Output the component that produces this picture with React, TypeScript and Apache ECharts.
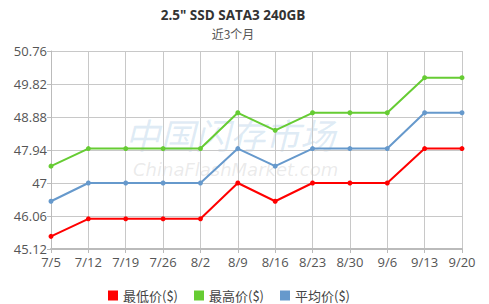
import React, { useEffect, useRef } from "react";
import * as echarts from "echarts";

const categories = ["7/5", "7/12", "7/19", "7/26", "8/2", "8/9", "8/16", "8/23", "8/30", "9/6", "9/13", "9/20"];
const lowPrices = [45.48, 45.98, 45.98, 45.98, 45.98, 47, 46.48, 47, 47, 47, 47.98, 47.98];
const highPrices = [47.48, 47.98, 47.98, 47.98, 47.98, 49, 48.5, 49, 49, 49, 50, 50];
const avgPrices = [46.48, 47, 47, 47, 47, 47.98, 47.48, 47.98, 47.98, 47.98, 49, 49];
const seriesNames = ["最低价($)", "最高价($)", "平均价($)"];
const seriesColors = ["#ff0000", "#66cc33", "#6699cc"];
const yMin = 45.12;
const yMax = 50.76;
const yInterval = 0.94;

const FONT = "'Open Sans', 'Noto Sans CJK SC', sans-serif";

export default function App() {
  const ref = useRef<HTMLDivElement>(null);
  useEffect(() => {
    const chart = echarts.init(ref.current!, null, { renderer: "svg" });
    const data = [lowPrices, highPrices, avgPrices];
    chart.setOption({
      animation: false,
      textStyle: { fontFamily: FONT },
      title: {
        text: '2.5" SSD SATA3 240GB',
        subtext: "近3个月",
        left: 233,
        textAlign: "center",
        padding: 0,
        top: 8,
        itemGap: 6,
        textStyle: { fontSize: 13.5, fontWeight: "bold", color: "#333", fontFamily: FONT },
        subtextStyle: { fontSize: 12, color: "#555", fontFamily: "'Noto Sans CJK SC', sans-serif" },
      },
      legend: {
        top: 284,
        left: 103,
        itemWidth: 10,
        itemHeight: 10,
        itemGap: 16,
        icon: "rect",
        textStyle: { fontSize: 13, color: "#444", fontFamily: "'Noto Sans CJK SC', sans-serif" },
        data: seriesNames.map((n, i) => ({ name: n, itemStyle: { color: seriesColors[i] } })),
      },
      grid: { left: 51, right: 27, top: 51, bottom: 55 },
      graphic: [
        {
          type: "text",
          left: 125,
          top: 116,
          z: 0,
          silent: true,
          style: {
            text: "中国闪存市场",
            fontSize: 35,
            fontStyle: "italic",
            fontFamily: "'Noto Sans CJK SC', sans-serif",
            fill: "rgba(110,165,210,0.22)",
          },
        },
        {
          type: "text",
          left: 133,
          top: 160,
          z: 0,
          silent: true,
          style: {
            text: "ChinaFlashMarket.com",
            fontSize: 18,
            fontStyle: "italic",
            fontFamily: "Verdana, 'DejaVu Sans', sans-serif",
            fill: "rgba(150,150,150,0.2)",
          },
        },
      ],
      xAxis: {
        type: "category",
        data: categories,
        boundaryGap: false,
        axisLine: { lineStyle: { color: "#bbb", width: 2 } },
        axisTick: { show: true, length: 4, lineStyle: { color: "#bbb" } },
        axisLabel: { fontSize: 13, color: "#555", margin: 6, interval: 0 },
        splitLine: { show: true, lineStyle: { color: "#c8c8c8" } },
      },
      yAxis: {
        type: "value",
        min: yMin,
        max: yMax,
        interval: yInterval,
        axisLine: { show: true, lineStyle: { color: "#bbb" } },
        axisTick: { show: true, length: 4, lineStyle: { color: "#bbb" } },
        axisLabel: {
          fontSize: 13,
          color: "#555",
          margin: 4,
          formatter: (v: number) => String(Math.round(v * 100) / 100),
        },
        splitLine: { lineStyle: { color: "#c8c8c8" } },
      },
      series: seriesNames.map((n, i) => ({
        name: n,
        type: "line",
        data: data[i],
        symbol: "circle",
        symbolSize: 5,
        z: 3,
        lineStyle: { color: seriesColors[i], width: 2 },
        itemStyle: { color: seriesColors[i] },
      })),
    });
    return () => chart.dispose();
  }, []);
  return (
    <div
      ref={ref}
      style={{ position: "absolute", left: 0, top: 0, width: 489, height: 304, background: "#fff" }}
    />
  );
}
